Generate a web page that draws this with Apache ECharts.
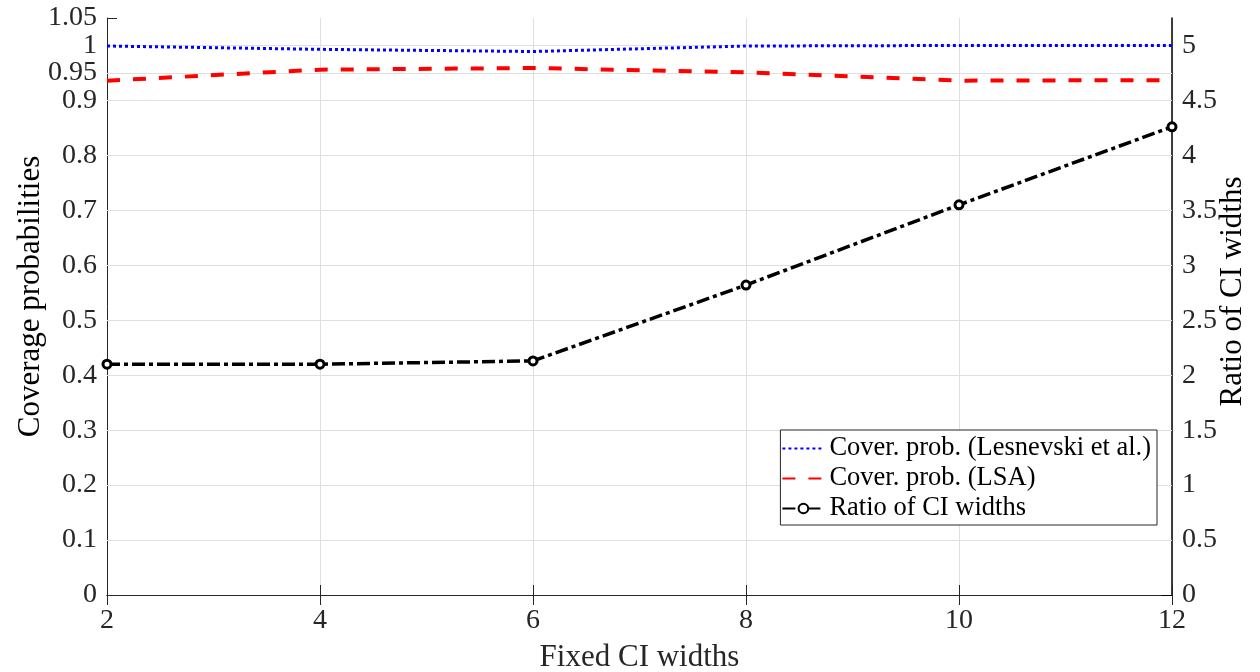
<!DOCTYPE html>
<html>
<head>
<meta charset="utf-8">
<script src="https://cdn.jsdelivr.net/npm/echarts@6/dist/echarts.min.js"></script>
<style>
html,body{margin:0;padding:0;background:#fff;}
#chart{width:1260px;height:672px;}
</style>
</head>
<body>
<div id="chart"></div>
<script>
const xValues = [2, 4, 6, 8, 10, 12];
const coverLesnevski = [0.999, 0.993, 0.989, 0.999, 1.0, 1.0];
const coverLSA = [0.936, 0.956, 0.959, 0.951, 0.936, 0.937];
const ratioWidths = [2.10, 2.10, 2.13, 2.82, 3.55, 4.26];
const leftTicks = [0, 0.1, 0.2, 0.3, 0.4, 0.5, 0.6, 0.7, 0.8, 0.9, 0.95, 1, 1.05];
const leftLabels = [0, 0.1, 0.2, 0.3, 0.4, 0.5, 0.6, 0.7, 0.8, 0.9, 1];
const leftExtraLabels = [0.95, 1.05];
const rightTicks = [0, 0.5, 1, 1.5, 2, 2.5, 3, 3.5, 4, 4.5, 4.75, 5];
const rightLabels = [0, 0.5, 1, 1.5, 2, 2.5, 3, 3.5, 4, 4.5, 5];
const xTicks = [2, 4, 6, 8, 10, 12];
const seriesNames = ['Cover. prob. (Lesnevski et al.)', 'Cover. prob. (LSA)', 'Ratio of CI widths'];

const FONT = 'Liberation Serif';
const AX = '#262626';
const chart = echarts.init(document.getElementById('chart'));
const zip = (a, b) => a.map((v, i) => [v, b[i]]);
const noSym = { color: 'rgba(0,0,0,0)', borderWidth: 0, opacity: 0 };

chart.setOption({
  animation: false,
  backgroundColor: '#fff',
  grid: { left: 107, right: 88, top: 18, bottom: 77, containLabel: false, outerBoundsMode: 'none' },
  legend: {
    data: [
      { name: seriesNames[0], itemStyle: noSym },
      { name: seriesNames[1], itemStyle: noSym },
      { name: seriesNames[2] }
    ],
    orient: 'vertical',
    right: 103, bottom: 147,
    z: 10,
    backgroundColor: '#fff',
    borderColor: AX, borderWidth: 1,
    padding: [5, 6, 3, 1],
    itemWidth: 42, itemHeight: 12, itemGap: 3,
    textStyle: { fontFamily: FONT, fontSize: 26.5, color: '#000' }
  },
  xAxis: [{
    type: 'value', min: 2, max: 12, interval: 2,
    name: 'Fixed CI widths', nameLocation: 'middle', nameGap: 47, nameMoveOverlap: false,
    nameTextStyle: { fontFamily: FONT, fontSize: 31, color: AX, verticalAlign: 'top' },
    axisLine: { show: true, lineStyle: { color: AX, width: 1 } },
    axisTick: { show: true, inside: true, length: 10, lineStyle: { color: AX } },
    axisLabel: { fontFamily: FONT, fontSize: 28, color: AX, margin: 12, customValues: xTicks, showMinLabel: true, showMaxLabel: true },
    splitLine: { show: true, lineStyle: { color: '#dfdfdf', width: 1 } }
  }, {
    type: 'value', min: 2, max: 12, interval: 2, position: 'top',
    axisLine: { show: true, lineStyle: { color: AX, width: 1 } },
    axisTick: { show: true, inside: true, length: 10, lineStyle: { color: AX } },
    axisLabel: { show: false },
    splitLine: { show: false }
  }],
  yAxis: [{
    type: 'value', min: 0, max: 1.05,
    name: 'Coverage probabilities', nameLocation: 'middle', nameGap: 61, nameMoveOverlap: false,
    nameTextStyle: { fontFamily: FONT, fontSize: 31, color: '#000', padding: [0, 0, 0, 20] },
    axisLine: { show: true, lineStyle: { color: AX, width: 1 } },
    axisTick: { show: true, inside: true, length: 10, lineStyle: { color: AX }, customValues: leftTicks },
    axisLabel: { fontFamily: FONT, fontSize: 28, color: AX, margin: 10, customValues: leftLabels, showMinLabel: true, showMaxLabel: true, hideOverlap: false },
    splitLine: { show: false }
  }, {
    type: 'value', min: 0, max: 5.25, position: 'right',
    name: 'Ratio of CI widths', nameLocation: 'middle', nameGap: 45, nameRotate: 90, nameMoveOverlap: false,
    nameTextStyle: { fontFamily: FONT, fontSize: 31, color: '#000', padding: [0, 0, 0, 30] },
    axisLine: { show: true, lineStyle: { color: '#000', width: 1.5 } },
    axisTick: { show: true, inside: true, length: 10, lineStyle: { color: '#000' }, customValues: rightTicks },
    axisLabel: { fontFamily: FONT, fontSize: 28, color: AX, margin: 10, customValues: rightLabels },
    splitLine: { show: false }
  }, {
    type: 'value', min: 0, max: 1.05, position: 'left',
    axisLine: { show: false }, axisTick: { show: false }, splitLine: { show: false },
    axisLabel: { fontFamily: FONT, fontSize: 28, color: AX, margin: 10, customValues: leftExtraLabels, showMinLabel: true, showMaxLabel: true }
  }],
  series: [{
    name: '__grid', type: 'line', data: [], xAxisIndex: 0, yAxisIndex: 0, silent: true, z: 1,
    markLine: {
      silent: true, symbol: 'none', label: { show: false }, z: 1,
      lineStyle: { color: '#dfdfdf', width: 1, type: 'solid' },
      emphasis: { disabled: true },
      data: leftTicks.filter(v => v > 0 && v < 1.05).map(v => ({ yAxis: v }))
    }
  }, {
    name: seriesNames[0], type: 'line', data: zip(xValues, coverLesnevski),
    yAxisIndex: 0, symbol: 'none', z: 3,
    lineStyle: { color: '#0000ff', width: 3, type: [3, 3] },
    itemStyle: { color: '#0000ff' }
  }, {
    name: seriesNames[1], type: 'line', data: zip(xValues, coverLSA),
    yAxisIndex: 0, symbol: 'none', z: 3,
    lineStyle: { color: '#ff0000', width: 4, type: [13, 13] },
    itemStyle: { color: '#ff0000' }
  }, {
    name: seriesNames[2], type: 'line', data: zip(xValues, ratioWidths),
    yAxisIndex: 1, symbol: 'circle', symbolSize: 8, z: 3,
    lineStyle: { color: '#000', width: 3.5, type: [13, 4, 4, 4] },
    itemStyle: { color: '#fff', borderColor: '#000', borderWidth: 3 }
  }]
});
</script>
</body>
</html>
